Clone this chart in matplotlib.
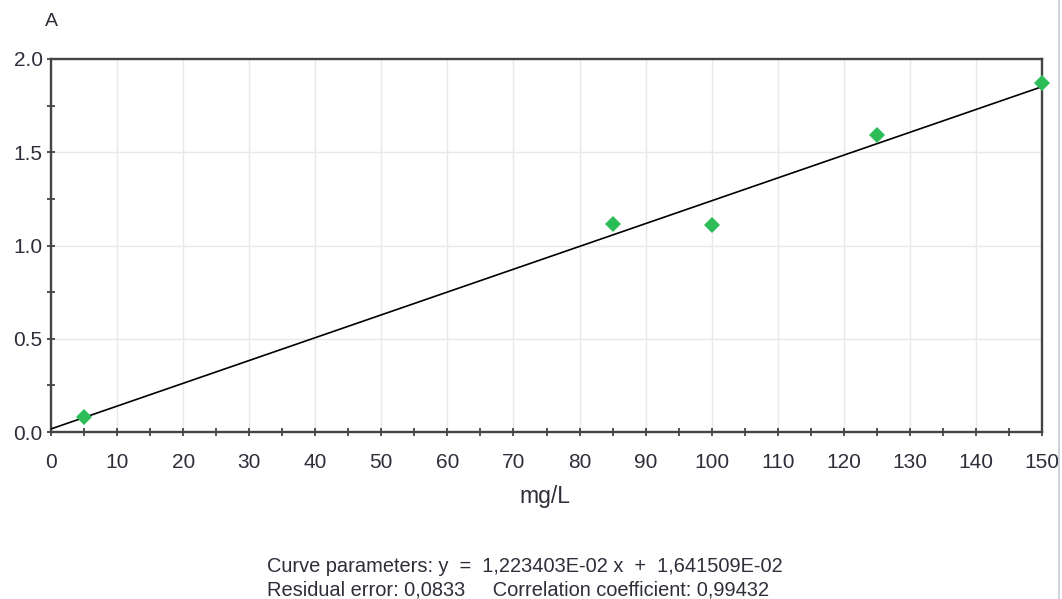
#!/usr/bin/env python3

import matplotlib
matplotlib.use("Agg")
import matplotlib.pyplot as plt
from matplotlib.lines import Line2D
import numpy as np

plt.rcParams['font.family'] = ['Liberation Sans', 'DejaVu Sans']

# calibration standards (mg/L) and measured absorbance
conc = [5, 85, 100, 125, 150]
absorb = [0.08, 1.115, 1.112, 1.59, 1.872]

# fitted curve parameters
slope = 1.223403E-02
intercept = 1.641509E-02
fit_x = [0, 150]

x_ticks = list(range(0, 151, 10))
y_ticks = [0.0, 0.5, 1.0, 1.5, 2.0]

txt_col = "#2e2e3a"
spine_col = "#444444"

fig = plt.figure(figsize=(10.62, 5.99), dpi=100)
ax = fig.add_axes([51 / 1062, 1 - 432 / 599, (1042 - 51) / 1062, (432 - 59) / 599])

fx = np.array(fit_x)
ax.plot(fx, slope * fx + intercept, color="black", lw=1.2, zorder=3)
ax.plot(conc, absorb, linestyle="none", marker="D", markersize=8.5,
        color="#2dbd58", markeredgewidth=0, zorder=4, clip_on=False)

ax.set_xlim(0, 150)
ax.set_ylim(0, 2.0)
ax.set_xticks(x_ticks)
ax.set_xticks(np.arange(0, 151, 5), minor=True)
ax.set_yticks(y_ticks)
ax.set_yticks(np.arange(0, 2.01, 0.25), minor=True)
ax.set_yticklabels(["%.1f" % v for v in y_ticks])

ax.grid(True, which="major", color="#e8e8e8", lw=1.0, zorder=0)
ax.set_axisbelow(True)

for s in ax.spines.values():
    s.set_color(spine_col)
    s.set_linewidth(1.7)

ax.tick_params(which="both", direction="inout", length=6, width=1.3,
               color=spine_col, labelsize=15, labelcolor=txt_col)
ax.tick_params(axis="x", pad=12)
ax.tick_params(axis="y", pad=3)

fig.text(51 / 1062, 1 - 21 / 599, "A", fontsize=14, color=txt_col,
         ha="center", va="center")
fig.text(545 / 1062, 1 - 497 / 599, "mg/L", fontsize=16.5, color=txt_col,
         ha="center", va="center")

fig.text(267 / 1062, 1 - 566 / 599,
         "Curve parameters: y  =  1,223403E-02 x  +  1,641509E-02",
         fontsize=14.4, color=txt_col, ha="left", va="center")
fig.text(267 / 1062, 1 - 590 / 599,
         "Residual error: 0,0833     Correlation coefficient: 0,99432",
         fontsize=14.4, color=txt_col, ha="left", va="center")

# window edge at the right
fig.add_artist(Line2D([1059 / 1062, 1059 / 1062], [0, 1], color="#c5cbd6", lw=1.2))

plt.savefig("out.png", dpi=100)
